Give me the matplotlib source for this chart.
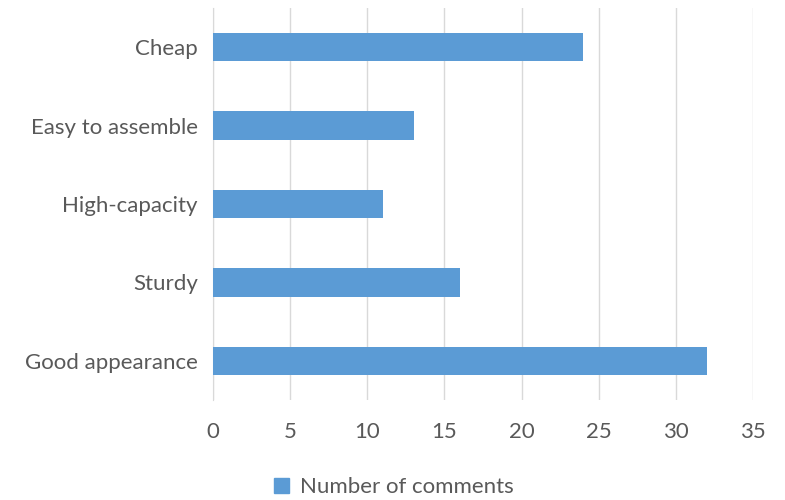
import matplotlib
matplotlib.use("Agg")
import matplotlib.pyplot as plt
from matplotlib.patches import Patch

plt.rcParams['font.family'] = ['Lato', 'DejaVu Sans']

categories = ["Cheap", "Easy to assemble", "High-capacity", "Sturdy", "Good appearance"]
values = [24, 13, 11, 16, 32]
xticks = [0, 5, 10, 15, 20, 25, 30, 35]
series_name = "Number of comments"

bar_color = "#5B9BD5"
text_color = "#595959"
fs = 16

fig = plt.figure(figsize=(7.85, 5.0), dpi=100)
ax = fig.add_axes([213/785, 1-400/500, (753-213)/785, (400-8)/500])

ypos = list(range(len(categories)))
ax.barh(ypos, values, height=0.36, color=bar_color, zorder=3)
ax.set_yticks(ypos)
ax.set_yticklabels(categories)
ax.set_ylim(len(categories)-0.5, -0.5)
ax.set_xlim(0, 35)
ax.set_xticks(xticks)
ax.grid(axis='x', color="#D9D9D9", linewidth=1, zorder=0)
for s in ["top", "right", "bottom"]:
    ax.spines[s].set_visible(False)
ax.spines["left"].set_color("#D9D9D9")
ax.tick_params(axis='both', length=0, labelsize=fs, colors=text_color)
ax.tick_params(axis='y', pad=11)
ax.tick_params(axis='x', pad=16)

fig.legend(handles=[Patch(color=bar_color, label=series_name)],
           loc="center", bbox_to_anchor=(394/785, 1-487/500), frameon=False,
           fontsize=fs, labelcolor=text_color, handlelength=0.65, handleheight=0.65,
           handletextpad=0.5)

fig.savefig("out.png", dpi=100)
